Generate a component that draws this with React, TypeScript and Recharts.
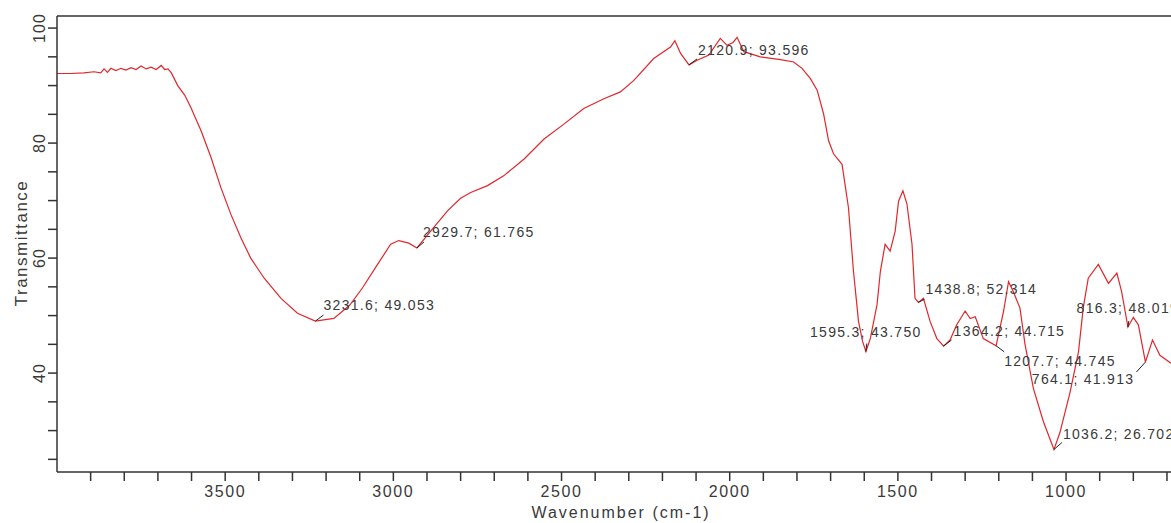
import React from "react";
import {
  LineChart,
  Line,
  XAxis,
  YAxis,
  ReferenceLine,
  ReferenceDot,
} from "recharts";

// FTIR spectrum (wavenumber in cm-1, transmittance in %)
const wavenumbers = [
  4000, 3960, 3920, 3890, 3870, 3860, 3850, 3840, 3825, 3810, 3795, 3780, 3765,
  3750, 3735, 3720, 3705, 3690, 3680, 3670, 3660, 3641, 3620, 3602, 3572, 3542,
  3513, 3483, 3453, 3424, 3384, 3334, 3285, 3232, 3177, 3130, 3092, 3047, 3008,
  2984, 2954, 2930, 2889, 2839, 2800, 2770, 2720, 2672, 2612, 2552, 2493, 2434,
  2374, 2325, 2285, 2226, 2176, 2163, 2146, 2121, 2097, 2062, 2028, 2008, 1990,
  1978, 1958, 1909, 1849, 1810, 1785, 1760, 1740, 1721, 1706, 1691, 1666, 1647,
  1632, 1617, 1605, 1595, 1582, 1562, 1552, 1538, 1523, 1508, 1498, 1485, 1473,
  1458, 1449, 1439, 1424, 1404, 1384, 1364, 1345, 1325, 1300, 1285, 1270, 1246,
  1208, 1186, 1171, 1157, 1137, 1122, 1097, 1067, 1036, 1018, 988, 963, 949,
  934, 904, 874, 849, 835, 816, 800, 785, 764, 743, 721, 688,
];

const transmittance = [
  92.1, 92.1, 92.2, 92.4, 92.2, 92.9, 92.3, 93.0, 92.6, 93.0, 92.7, 93.1, 92.8,
  93.4, 92.9, 93.2, 92.8, 93.5, 92.8, 92.9, 92.2, 90.0, 88.3, 86.2, 82.2, 77.5,
  72.3, 67.6, 63.5, 60.0, 56.5, 53.0, 50.4, 49.05, 49.5, 51.8, 54.8, 58.9, 62.4,
  63.05, 62.6, 61.77, 64.7, 68.2, 70.4, 71.4, 72.6, 74.3, 77.2, 80.7, 83.3, 86.0,
  87.7, 88.9, 90.9, 94.7, 96.7, 97.8, 95.6, 93.6, 94.4, 95.3, 98.2, 97.0, 97.5,
  98.4, 95.9, 95.0, 94.5, 94.1, 93.0, 91.2, 89.2, 85.1, 80.4, 78.1, 76.3, 68.8,
  57.7, 48.95, 45.5, 43.75, 46.0, 51.9, 57.7, 62.4, 61.2, 64.7, 69.9, 71.7, 69.4,
  62.4, 53.0, 52.3, 53.0, 48.95, 46.0, 44.7, 45.75, 48.4, 50.8, 49.5, 49.8, 46.0,
  44.75, 50.7, 55.9, 54.2, 51.3, 45.0, 37.3, 31.5, 26.7, 29.7, 36.7, 43.7, 51.3,
  56.5, 58.9, 55.6, 57.4, 54.2, 48.0, 49.7, 48.4, 41.9, 45.75, 43.1, 41.7,
];

const peakWavenumbers = [3231.6, 2929.7, 2120.9, 1595.3, 1438.8, 1364.2, 1207.7, 1036.2, 816.3, 764.1];
const peakValues = [49.053, 61.765, 93.596, 43.75, 52.314, 44.715, 44.745, 26.702, 48.019, 41.913];
const peakLabels = [
  "3231.6; 49.053",
  "2929.7; 61.765",
  "2120.9; 93.596",
  "1595.3; 43.750",
  "1438.8; 52.314",
  "1364.2; 44.715",
  "1207.7; 44.745",
  "1036.2; 26.702",
  "816.3; 48.019",
  "764.1; 41.913",
];

const xTicks = [3900, 3800, 3700, 3600, 3500, 3400, 3300, 3200, 3100, 3000, 2900, 2800, 2700, 2600, 2500, 2400, 2300, 2200, 2100, 2000, 1900, 1800, 1700, 1600, 1500, 1400, 1300, 1200, 1100, 1000, 900, 800, 700];
const yTicks = [25, 30, 35, 40, 45, 50, 55, 60, 65, 70, 75, 80, 85, 90, 95, 100];

const spectrum = wavenumbers.map((wn, i) => ({ wn, t: transmittance[i] }));

// label placement relative to each marked point (leader end + text offset)
const peakLayout = [
  { lx: 8, ly: -6, dx: 8, dy: -11, anchor: "start" },
  { lx: 7, ly: -6, dx: 6, dy: -11, anchor: "start" },
  { lx: 8, ly: -6, dx: 9, dy: -10, anchor: "start" },
  { lx: 1, ly: -8, dx: 0, dy: -15, anchor: "middle" },
  { lx: 6, ly: -3, dx: 7, dy: -8, anchor: "start" },
  { lx: 8, ly: -6, dx: 10, dy: -10, anchor: "start" },
  { lx: 8, ly: 6, dx: 8, dy: 20, anchor: "start" },
  { lx: 8, ly: -7, dx: 9, dy: -11, anchor: "start" },
  { lx: 1, ly: -6, dx: 0, dy: -14, anchor: "middle" },
  { lx: -9, ly: 10, dx: -11, dy: 22, anchor: "end" },
];

const FONT = '"Liberation Sans", Arial, sans-serif';
const AXIS = "#333";
const TEXT = "#3a3a3a";

const renderXTick = (props: any) => {
  const { x, y, payload } = props;
  const v = payload.value;
  if (v % 500 !== 0) return <g />;
  return (
    <text x={x} y={y + 14} textAnchor="middle" fill={TEXT} fontSize={16} fontFamily={FONT} letterSpacing={1.6}>
      {v}
    </text>
  );
};

const renderYTick = (props: any) => {
  const { x, y, payload } = props;
  const v = payload.value;
  if (v % 20 !== 0) return <g />;
  return (
    <text transform={`translate(${x - 1},${y}) rotate(-90)`} textAnchor="middle" fill={TEXT} fontSize={16} fontFamily={FONT} letterSpacing={1}>
      {v}
    </text>
  );
};

const renderXLabel = (props: any) => {
  const vb = props.viewBox || {};
  return (
    <text x={vb.x + vb.width / 2 + 7} y={vb.y + 46} textAnchor="middle" fill={TEXT} fontSize={16} fontFamily={FONT} letterSpacing={2}>
      Wavenumber (cm-1)
    </text>
  );
};

const renderYLabel = (props: any) => {
  const vb = props.viewBox || {};
  return (
    <text transform={`translate(27,${vb.y + vb.height / 2 - 1}) rotate(-90)`} textAnchor="middle" fill={TEXT} fontSize={17} fontFamily={FONT} letterSpacing={1.5}>
      Transmittance
    </text>
  );
};

const renderPeak = (i: number) => (props: any) => {
  const { cx, cy } = props;
  const l = peakLayout[i];
  return (
    <g>
      <line x1={cx} y1={cy} x2={cx + l.lx} y2={cy + l.ly} stroke="#222" strokeWidth={1} />
      <text x={cx + l.dx} y={cy + l.dy} textAnchor={l.anchor} fill={TEXT} fontSize={14} fontFamily={FONT} letterSpacing={1.3}>
        {peakLabels[i]}
      </text>
    </g>
  );
};

export default function App() {
  return (
    <div style={{ position: "absolute", left: 0, top: 0, width: 1171, height: 523, background: "#fff" }}>
      <LineChart width={1171} height={523} data={spectrum} margin={{ top: 16, right: 0, bottom: 0, left: 0 }}>
        <XAxis
          type="number"
          dataKey="wn"
          domain={[688, 4000]}
          reversed
          allowDataOverflow
          ticks={xTicks}
          interval={0}
          tick={renderXTick}
          tickSize={9}
          height={51}
          stroke={AXIS}
          strokeWidth={1.5}
          label={{ content: renderXLabel }}
        />
        <YAxis
          type="number"
          domain={[22.8, 102.1]}
          allowDataOverflow
          ticks={yTicks}
          interval={0}
          tick={renderYTick}
          tickSize={9}
          width={57}
          stroke={AXIS}
          strokeWidth={1.5}
          label={{ content: renderYLabel }}
        />
        <ReferenceLine y={102.1} stroke={AXIS} strokeWidth={1.5} />
        <Line
          type="linear"
          dataKey="t"
          stroke="#e2262b"
          strokeWidth={1.2}
          dot={false}
          isAnimationActive={false}
        />
        {peakWavenumbers.map((wn, i) => (
          <ReferenceDot key={wn} x={wn} y={peakValues[i]} r={2} shape={renderPeak(i)} />
        ))}
      </LineChart>
    </div>
  );
}
